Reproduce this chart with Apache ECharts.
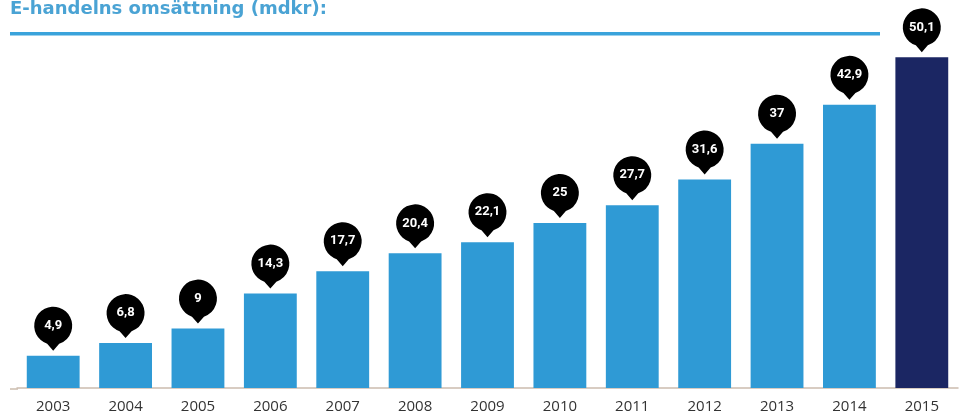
<!DOCTYPE html>
<html><head><meta charset="utf-8">
<script src="https://cdn.jsdelivr.net/npm/echarts@6/dist/echarts.min.js"></script>
<style>html,body{margin:0;padding:0;background:#fff}#c{width:959px;height:414px}</style>
</head><body><div id="c"></div>
<script>
const years = ['2003','2004','2005','2006','2007','2008','2009','2010','2011','2012','2013','2014','2015'];
const values = [4.9, 6.8, 9, 14.3, 17.7, 20.4, 22.1, 25, 27.7, 31.6, 37, 42.9, 50.1];
const titleText = 'E-handelns omsättning (mdkr):';

const bubblePath = 'path://M19 44 L13 37.03 A19 19 0 1 1 25 37.03 Z';
const chart = echarts.init(document.getElementById('c'));
const fmt = v => String(v).replace('.', ',');
chart.setOption({
  animation: false,
  grid: {left: 17, right: 1, top: 25, bottom: 25},
  graphic: [
    {type: 'text', left: 10, top: 0, style: {text: titleText, fill: '#4aa3d4', font: 'bold 18px "DejaVu Sans", sans-serif'}},
    {type: 'rect', left: 10, top: 32, shape: {width: 870, height: 3.5}, style: {fill: '#3aa3db'}},
    {type: 'line', shape: {x1: 10, y1: 389, x2: 18, y2: 389}, style: {stroke: '#cbbcae', lineWidth: 1.5}}
  ],
  xAxis: {
    type: 'category', data: years,
    axisLine: {lineStyle: {color: '#cbbcae', width: 1.5}},
    axisTick: {show: false},
    axisLabel: {color: '#333', fontSize: 15, fontFamily: '"Open Sans", sans-serif', margin: 11}
  },
  yAxis: {type: 'value', min: 0, max: 55, show: false, splitLine: {show: false}},
  series: [{
    type: 'bar',
    barWidth: '73%',
    data: values.map((v, i) => ({value: v, itemStyle: {color: i === values.length - 1 ? '#1b2663' : '#2f9ad5'}})),
    markPoint: {
      symbol: bubblePath,
      symbolSize: [38, 44],
      symbolOffset: [0, -27],
      itemStyle: {color: '#000'},
      label: {color: '#fff', fontWeight: 'bold', fontSize: 13, fontFamily: 'Roboto, sans-serif', offset: [0, -3],
        formatter: p => fmt(p.value)},
      data: values.map((v, i) => ({coord: [i, v], value: v}))
    }
  }]
});
</script></body></html>
